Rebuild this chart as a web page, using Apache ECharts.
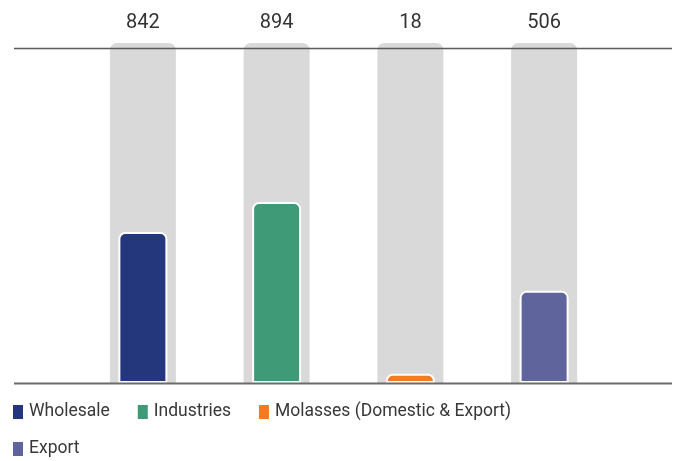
<!DOCTYPE html>
<html><head><meta charset="utf-8">
<script src="https://cdn.jsdelivr.net/npm/echarts@6/dist/echarts.min.js"></script>
<style>html,body{margin:0;padding:0;background:#fff}#c{width:674px;height:461px}</style>
</head><body><div id="c"></div>
<script>
const categories = ['Wholesale', 'Industries', 'Molasses (Domestic & Export)', 'Export'];
const totals = [842, 894, 18, 506];
const barValues = [44.4, 53.2, 2.7, 27.1];
const backgroundValues = [100, 100, 100, 100];
const colors = ['#24377c', '#3f9a78', '#f47b20', '#5f649c'];

const chart = echarts.init(document.getElementById('c'));
const FONT = 'Roboto';

const colorSeries = categories.map((name, i) => ({
  name: name,
  type: 'bar',
  xAxisIndex: 0,
  stack: 'main',
  barWidth: 49,
  z: 3,
  itemStyle: { color: colors[i], borderColor: '#fff', borderWidth: 2, borderRadius: [6, 6, 0, 0] },
  data: categories.map((c, j) => (j === i ? barValues[i] : '-'))
}));

const legendText = { fontFamily: FONT, fontSize: 17.5, color: '#383838' };

chart.setOption({
  animation: false,
  textStyle: { fontFamily: FONT },
  grid: { left: 76, right: 63, top: 43, bottom: 78 },
  xAxis: [
    { type: 'category', data: categories, axisLine: { show: false }, axisTick: { show: false }, axisLabel: { show: false } },
    { type: 'category', data: categories, show: false }
  ],
  yAxis: { type: 'value', min: 0, max: 100, show: false, splitLine: { show: false } },
  legend: [
    {
      data: categories.slice(0, 3), left: 11, top: 403, padding: 0, icon: 'rect', itemWidth: 12, itemHeight: 16,
      itemGap: 26, itemTextGap: 3, textStyle: legendText
    },
    {
      data: categories.slice(3), left: 11, top: 440, padding: 0, icon: 'rect', itemWidth: 12, itemHeight: 16,
      itemTextGap: 3, textStyle: legendText
    }
  ],
  graphic: [
    { type: 'line', z: 10, shape: { x1: 14, y1: 48.5, x2: 672, y2: 48.5 }, style: { stroke: '#5a5a5a', lineWidth: 1.5 } },
    { type: 'line', z: 10, shape: { x1: 14, y1: 383.5, x2: 672, y2: 383.5 }, style: { stroke: '#6a6a6a', lineWidth: 2 } }
  ],
  series: [
    {
      type: 'bar',
      xAxisIndex: 1,
      barWidth: 66,
      z: 1,
      silent: true,
      itemStyle: { color: '#d9d9d9', borderRadius: [7, 7, 0, 0] },
      label: {
        show: true, position: 'top', distance: 10,
        fontFamily: FONT, fontSize: 20, color: '#333',
        formatter: p => String(totals[p.dataIndex])
      },
      data: backgroundValues
    }
  ].concat(colorSeries)
});
</script>
</body></html>
